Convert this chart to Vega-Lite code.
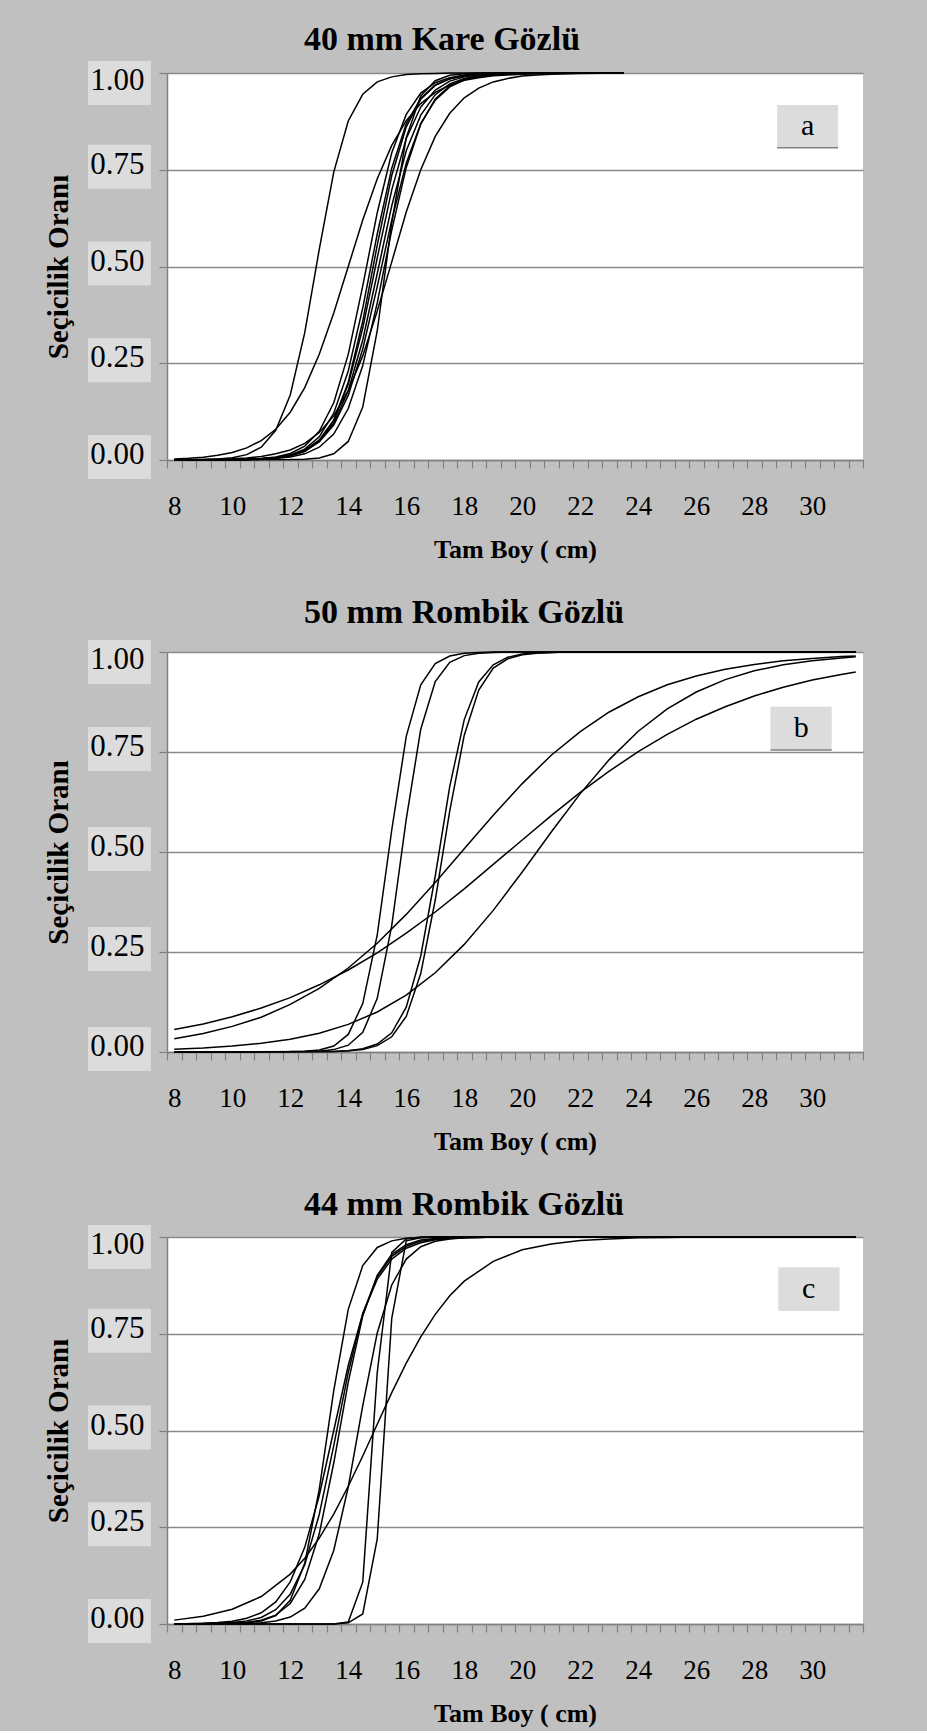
{
  "$schema": "https://vega.github.io/schema/vega-lite/v6.json",
  "background": "#c0c0c0",
  "padding": {"top": 22, "left": 44, "right": 66, "bottom": 5},
  "spacing": 33,
  "config": {
    "view": {"fill": "white", "stroke": null},
    "font": "Liberation Serif",
    "title": {"font": "Liberation Serif", "fontSize": 34, "fontWeight": "bold", "color": "black", "anchor": "start", "frame": "group", "dx": 137, "baseline": "alphabetic"},
    "axis": {"labelFont": "Liberation Serif", "titleFont": "Liberation Serif", "labelColor": "black", "titleColor": "black", "domainColor": "#808080", "tickColor": "#808080", "gridColor": "#8a8a8a", "gridWidth": 1.5, "domainWidth": 1.5, "tickWidth": 1.2, "tickSize": 8}
  },
  "datasets": {
    "ticks": [{"t": 0}, {"t": 0.25}, {"t": 0.5}, {"t": 0.75}, {"t": 1}],
    "a": [
      {"s":"A1","x":8,"y":0.0002},{"s":"A1","x":8.5,"y":0.0004},{"s":"A1","x":9,"y":0.001},{"s":"A1","x":9.5,"y":0.0024},{"s":"A1","x":10,"y":0.0057},{"s":"A1","x":10.5,"y":0.0138},{"s":"A1","x":11,"y":0.0329},{"s":"A1","x":11.5,"y":0.0766},{"s":"A1","x":12,"y":0.168},{"s":"A1","x":12.5,"y":0.329},{"s":"A1","x":13,"y":0.544},{"s":"A1","x":13.5,"y":0.744},{"s":"A1","x":14,"y":0.876},{"s":"A1","x":14.5,"y":0.945},{"s":"A1","x":15,"y":0.977},{"s":"A1","x":15.5,"y":0.99},{"s":"A1","x":16,"y":0.996},{"s":"A1","x":16.5,"y":0.998},{"s":"A1","x":17,"y":0.999},{"s":"A1","x":17.5,"y":1},{"s":"A1","x":23.5,"y":1},
      {"s":"A2","x":8,"y":0.0028},{"s":"A2","x":8.5,"y":0.0045},{"s":"A2","x":9,"y":0.0074},{"s":"A2","x":9.5,"y":0.012},{"s":"A2","x":10,"y":0.0195},{"s":"A2","x":10.5,"y":0.0314},{"s":"A2","x":11,"y":0.0502},{"s":"A2","x":11.5,"y":0.0794},{"s":"A2","x":12,"y":0.1235},{"s":"A2","x":12.5,"y":0.187},{"s":"A2","x":13,"y":0.273},{"s":"A2","x":13.5,"y":0.38},{"s":"A2","x":14,"y":0.5},{"s":"A2","x":14.5,"y":0.62},{"s":"A2","x":15,"y":0.727},{"s":"A2","x":15.5,"y":0.813},{"s":"A2","x":16,"y":0.877},{"s":"A2","x":16.5,"y":0.921},{"s":"A2","x":17,"y":0.95},{"s":"A2","x":17.5,"y":0.969},{"s":"A2","x":18,"y":0.981},{"s":"A2","x":18.5,"y":0.988},{"s":"A2","x":19,"y":0.993},{"s":"A2","x":19.5,"y":0.995},{"s":"A2","x":20,"y":0.997},{"s":"A2","x":21,"y":0.999},{"s":"A2","x":22,"y":1},{"s":"A2","x":23.5,"y":1},
      {"s":"sR","x":8,"y":0},{"s":"sR","x":12,"y":0.001},{"s":"sR","x":12.5,"y":0.002},{"s":"sR","x":13,"y":0.005},{"s":"sR","x":13.5,"y":0.016},{"s":"sR","x":14,"y":0.048},{"s":"sR","x":14.5,"y":0.137},{"s":"sR","x":15,"y":0.334},{"s":"sR","x":15.5,"y":0.613},{"s":"sR","x":16,"y":0.833},{"s":"sR","x":16.5,"y":0.941},{"s":"sR","x":17,"y":0.98},{"s":"sR","x":17.5,"y":0.994},{"s":"sR","x":18,"y":0.998},{"s":"sR","x":18.5,"y":1},{"s":"sR","x":23.5,"y":1},
      {"s":"wR","x":8,"y":0.0004},{"s":"wR","x":9,"y":0.001},{"s":"wR","x":10,"y":0.003},{"s":"wR","x":10.5,"y":0.005},{"s":"wR","x":11,"y":0.009},{"s":"wR","x":11.5,"y":0.016},{"s":"wR","x":12,"y":0.026},{"s":"wR","x":12.5,"y":0.043},{"s":"wR","x":13,"y":0.071},{"s":"wR","x":13.5,"y":0.114},{"s":"wR","x":14,"y":0.179},{"s":"wR","x":14.5,"y":0.269},{"s":"wR","x":15,"y":0.385},{"s":"wR","x":15.5,"y":0.512},{"s":"wR","x":16,"y":0.641},{"s":"wR","x":16.5,"y":0.75},{"s":"wR","x":17,"y":0.836},{"s":"wR","x":17.5,"y":0.896},{"s":"wR","x":18,"y":0.936},{"s":"wR","x":18.5,"y":0.961},{"s":"wR","x":19,"y":0.977},{"s":"wR","x":19.5,"y":0.986},{"s":"wR","x":20,"y":0.992},{"s":"wR","x":20.5,"y":0.995},{"s":"wR","x":21,"y":0.997},{"s":"wR","x":22,"y":0.999},{"s":"wR","x":23.5,"y":1},
      {"s":"c1","x":8,"y":0},{"s":"c1","x":10,"y":0.001},{"s":"c1","x":10.5,"y":0.002},{"s":"c1","x":11,"y":0.004},{"s":"c1","x":11.5,"y":0.008},{"s":"c1","x":12,"y":0.017},{"s":"c1","x":12.5,"y":0.036},{"s":"c1","x":13,"y":0.074},{"s":"c1","x":13.5,"y":0.148},{"s":"c1","x":14,"y":0.273},{"s":"c1","x":14.5,"y":0.45},{"s":"c1","x":15,"y":0.639},{"s":"c1","x":15.5,"y":0.794},{"s":"c1","x":16,"y":0.893},{"s":"c1","x":16.5,"y":0.948},{"s":"c1","x":17,"y":0.975},{"s":"c1","x":17.5,"y":0.988},{"s":"c1","x":18,"y":0.995},{"s":"c1","x":18.5,"y":0.998},{"s":"c1","x":19,"y":0.999},{"s":"c1","x":19.5,"y":1},{"s":"c1","x":23.5,"y":1},
      {"s":"c2","x":8,"y":0},{"s":"c2","x":10.5,"y":0.001},{"s":"c2","x":11,"y":0.003},{"s":"c2","x":11.5,"y":0.006},{"s":"c2","x":12,"y":0.013},{"s":"c2","x":12.5,"y":0.028},{"s":"c2","x":13,"y":0.06},{"s":"c2","x":13.5,"y":0.121},{"s":"c2","x":14,"y":0.23},{"s":"c2","x":14.5,"y":0.393},{"s":"c2","x":15,"y":0.584},{"s":"c2","x":15.5,"y":0.754},{"s":"c2","x":16,"y":0.869},{"s":"c2","x":16.5,"y":0.935},{"s":"c2","x":17,"y":0.969},{"s":"c2","x":17.5,"y":0.985},{"s":"c2","x":18,"y":0.993},{"s":"c2","x":18.5,"y":0.997},{"s":"c2","x":19,"y":0.999},{"s":"c2","x":19.5,"y":1},{"s":"c2","x":23.5,"y":1},
      {"s":"c3","x":8,"y":0},{"s":"c3","x":10.5,"y":0.001},{"s":"c3","x":11,"y":0.002},{"s":"c3","x":11.5,"y":0.005},{"s":"c3","x":12,"y":0.01},{"s":"c3","x":12.5,"y":0.022},{"s":"c3","x":13,"y":0.048},{"s":"c3","x":13.5,"y":0.102},{"s":"c3","x":14,"y":0.201},{"s":"c3","x":14.5,"y":0.359},{"s":"c3","x":15,"y":0.555},{"s":"c3","x":15.5,"y":0.735},{"s":"c3","x":16,"y":0.861},{"s":"c3","x":16.5,"y":0.932},{"s":"c3","x":17,"y":0.968},{"s":"c3","x":17.5,"y":0.985},{"s":"c3","x":18,"y":0.993},{"s":"c3","x":18.5,"y":0.997},{"s":"c3","x":19,"y":0.999},{"s":"c3","x":19.5,"y":1},{"s":"c3","x":23.5,"y":1},
      {"s":"c4","x":8,"y":0},{"s":"c4","x":10.5,"y":0.001},{"s":"c4","x":11,"y":0.003},{"s":"c4","x":11.5,"y":0.006},{"s":"c4","x":12,"y":0.012},{"s":"c4","x":12.5,"y":0.025},{"s":"c4","x":13,"y":0.052},{"s":"c4","x":13.5,"y":0.103},{"s":"c4","x":14,"y":0.196},{"s":"c4","x":14.5,"y":0.341},{"s":"c4","x":15,"y":0.522},{"s":"c4","x":15.5,"y":0.698},{"s":"c4","x":16,"y":0.831},{"s":"c4","x":16.5,"y":0.912},{"s":"c4","x":17,"y":0.956},{"s":"c4","x":17.5,"y":0.979},{"s":"c4","x":18,"y":0.99},{"s":"c4","x":18.5,"y":0.995},{"s":"c4","x":19,"y":0.998},{"s":"c4","x":19.5,"y":0.999},{"s":"c4","x":20,"y":1},{"s":"c4","x":23.5,"y":1},
      {"s":"c5","x":8,"y":0},{"s":"c5","x":10.5,"y":0.001},{"s":"c5","x":11,"y":0.003},{"s":"c5","x":11.5,"y":0.006},{"s":"c5","x":12,"y":0.012},{"s":"c5","x":12.5,"y":0.024},{"s":"c5","x":13,"y":0.049},{"s":"c5","x":13.5,"y":0.095},{"s":"c5","x":14,"y":0.179},{"s":"c5","x":14.5,"y":0.31},{"s":"c5","x":15,"y":0.482},{"s":"c5","x":15.5,"y":0.657},{"s":"c5","x":16,"y":0.799},{"s":"c5","x":16.5,"y":0.891},{"s":"c5","x":17,"y":0.944},{"s":"c5","x":17.5,"y":0.972},{"s":"c5","x":18,"y":0.986},{"s":"c5","x":18.5,"y":0.993},{"s":"c5","x":19,"y":0.997},{"s":"c5","x":19.5,"y":0.998},{"s":"c5","x":20,"y":0.999},{"s":"c5","x":20.5,"y":1},{"s":"c5","x":23.5,"y":1},
      {"s":"c6","x":8,"y":0},{"s":"c6","x":10.5,"y":0.001},{"s":"c6","x":11,"y":0.003},{"s":"c6","x":11.5,"y":0.006},{"s":"c6","x":12,"y":0.012},{"s":"c6","x":12.5,"y":0.024},{"s":"c6","x":13,"y":0.047},{"s":"c6","x":13.5,"y":0.09},{"s":"c6","x":14,"y":0.167},{"s":"c6","x":14.5,"y":0.287},{"s":"c6","x":15,"y":0.448},{"s":"c6","x":15.5,"y":0.62},{"s":"c6","x":16,"y":0.767},{"s":"c6","x":16.5,"y":0.869},{"s":"c6","x":17,"y":0.93},{"s":"c6","x":17.5,"y":0.964},{"s":"c6","x":18,"y":0.982},{"s":"c6","x":18.5,"y":0.991},{"s":"c6","x":19,"y":0.995},{"s":"c6","x":19.5,"y":0.998},{"s":"c6","x":20,"y":0.999},{"s":"c6","x":20.5,"y":1},{"s":"c6","x":23.5,"y":1},
      {"s":"c7","x":8,"y":0},{"s":"c7","x":10.5,"y":0.001},{"s":"c7","x":11,"y":0.002},{"s":"c7","x":11.5,"y":0.004},{"s":"c7","x":12,"y":0.008},{"s":"c7","x":12.5,"y":0.016},{"s":"c7","x":13,"y":0.033},{"s":"c7","x":13.5,"y":0.067},{"s":"c7","x":14,"y":0.133},{"s":"c7","x":14.5,"y":0.244},{"s":"c7","x":15,"y":0.406},{"s":"c7","x":15.5,"y":0.594},{"s":"c7","x":16,"y":0.756},{"s":"c7","x":16.5,"y":0.868},{"s":"c7","x":17,"y":0.933},{"s":"c7","x":17.5,"y":0.967},{"s":"c7","x":18,"y":0.984},{"s":"c7","x":18.5,"y":0.992},{"s":"c7","x":19,"y":0.996},{"s":"c7","x":19.5,"y":0.998},{"s":"c7","x":20,"y":0.999},{"s":"c7","x":20.5,"y":1},{"s":"c7","x":23.5,"y":1}
    ],
    "b": [
      {"s":"B1","x":8,"y":0},{"s":"B1","x":12,"y":0.001},{"s":"B1","x":12.5,"y":0.002},{"s":"B1","x":13,"y":0.005},{"s":"B1","x":13.5,"y":0.015},{"s":"B1","x":14,"y":0.044},{"s":"B1","x":14.5,"y":0.121},{"s":"B1","x":15,"y":0.293},{"s":"B1","x":15.5,"y":0.555},{"s":"B1","x":16,"y":0.789},{"s":"B1","x":16.5,"y":0.918},{"s":"B1","x":17,"y":0.971},{"s":"B1","x":17.5,"y":0.99},{"s":"B1","x":18,"y":0.997},{"s":"B1","x":18.5,"y":0.999},{"s":"B1","x":19,"y":1},{"s":"B1","x":31.5,"y":1},
      {"s":"B2","x":8,"y":0},{"s":"B2","x":12.5,"y":0.001},{"s":"B2","x":13,"y":0.002},{"s":"B2","x":13.5,"y":0.006},{"s":"B2","x":14,"y":0.017},{"s":"B2","x":14.5,"y":0.049},{"s":"B2","x":15,"y":0.134},{"s":"B2","x":15.5,"y":0.316},{"s":"B2","x":16,"y":0.582},{"s":"B2","x":16.5,"y":0.807},{"s":"B2","x":17,"y":0.926},{"s":"B2","x":17.5,"y":0.974},{"s":"B2","x":18,"y":0.991},{"s":"B2","x":18.5,"y":0.997},{"s":"B2","x":19,"y":0.999},{"s":"B2","x":19.5,"y":1},{"s":"B2","x":31.5,"y":1},
      {"s":"B3","x":8,"y":0},{"s":"B3","x":13,"y":0.001},{"s":"B3","x":13.5,"y":0.001},{"s":"B3","x":14,"y":0.003},{"s":"B3","x":14.5,"y":0.008},{"s":"B3","x":15,"y":0.02},{"s":"B3","x":15.5,"y":0.048},{"s":"B3","x":16,"y":0.112},{"s":"B3","x":16.5,"y":0.24},{"s":"B3","x":17,"y":0.44},{"s":"B3","x":17.5,"y":0.664},{"s":"B3","x":18,"y":0.831},{"s":"B3","x":18.5,"y":0.925},{"s":"B3","x":19,"y":0.968},{"s":"B3","x":19.5,"y":0.987},{"s":"B3","x":20,"y":0.995},{"s":"B3","x":20.5,"y":0.998},{"s":"B3","x":21,"y":0.999},{"s":"B3","x":21.5,"y":1},{"s":"B3","x":31.5,"y":1},
      {"s":"B4","x":8,"y":0},{"s":"B4","x":13.5,"y":0.001},{"s":"B4","x":14,"y":0.003},{"s":"B4","x":14.5,"y":0.006},{"s":"B4","x":15,"y":0.016},{"s":"B4","x":15.5,"y":0.038},{"s":"B4","x":16,"y":0.089},{"s":"B4","x":16.5,"y":0.196},{"s":"B4","x":17,"y":0.38},{"s":"B4","x":17.5,"y":0.603},{"s":"B4","x":18,"y":0.792},{"s":"B4","x":18.5,"y":0.905},{"s":"B4","x":19,"y":0.96},{"s":"B4","x":19.5,"y":0.983},{"s":"B4","x":20,"y":0.993},{"s":"B4","x":20.5,"y":0.997},{"s":"B4","x":21,"y":0.999},{"s":"B4","x":21.5,"y":1},{"s":"B4","x":31.5,"y":1},
      {"s":"W1","x":8,"y":0.033},{"s":"W1","x":9,"y":0.046},{"s":"W1","x":10,"y":0.064},{"s":"W1","x":11,"y":0.087},{"s":"W1","x":12,"y":0.119},{"s":"W1","x":13,"y":0.159},{"s":"W1","x":14,"y":0.21},{"s":"W1","x":15,"y":0.272},{"s":"W1","x":16,"y":0.344},{"s":"W1","x":17,"y":0.424},{"s":"W1","x":18,"y":0.508},{"s":"W1","x":19,"y":0.592},{"s":"W1","x":20,"y":0.671},{"s":"W1","x":21,"y":0.742},{"s":"W1","x":22,"y":0.801},{"s":"W1","x":23,"y":0.85},{"s":"W1","x":24,"y":0.888},{"s":"W1","x":25,"y":0.918},{"s":"W1","x":26,"y":0.94},{"s":"W1","x":27,"y":0.957},{"s":"W1","x":28,"y":0.969},{"s":"W1","x":29,"y":0.978},{"s":"W1","x":30,"y":0.984},{"s":"W1","x":31,"y":0.989},{"s":"W1","x":31.5,"y":0.99},
      {"s":"W2","x":8,"y":0.056},{"s":"W2","x":9,"y":0.07},{"s":"W2","x":10,"y":0.088},{"s":"W2","x":11,"y":0.11},{"s":"W2","x":12,"y":0.136},{"s":"W2","x":13,"y":0.168},{"s":"W2","x":14,"y":0.205},{"s":"W2","x":15,"y":0.248},{"s":"W2","x":16,"y":0.297},{"s":"W2","x":17,"y":0.35},{"s":"W2","x":18,"y":0.408},{"s":"W2","x":19,"y":0.469},{"s":"W2","x":20,"y":0.53},{"s":"W2","x":21,"y":0.591},{"s":"W2","x":22,"y":0.649},{"s":"W2","x":23,"y":0.702},{"s":"W2","x":24,"y":0.751},{"s":"W2","x":25,"y":0.794},{"s":"W2","x":26,"y":0.832},{"s":"W2","x":27,"y":0.863},{"s":"W2","x":28,"y":0.89},{"s":"W2","x":29,"y":0.912},{"s":"W2","x":30,"y":0.93},{"s":"W2","x":31,"y":0.944},{"s":"W2","x":31.5,"y":0.95},
      {"s":"W3","x":8,"y":0.007},{"s":"W3","x":9,"y":0.01},{"s":"W3","x":10,"y":0.015},{"s":"W3","x":11,"y":0.022},{"s":"W3","x":12,"y":0.032},{"s":"W3","x":13,"y":0.047},{"s":"W3","x":14,"y":0.069},{"s":"W3","x":15,"y":0.1},{"s":"W3","x":16,"y":0.142},{"s":"W3","x":17,"y":0.198},{"s":"W3","x":18,"y":0.269},{"s":"W3","x":19,"y":0.354},{"s":"W3","x":20,"y":0.45},{"s":"W3","x":21,"y":0.55},{"s":"W3","x":22,"y":0.646},{"s":"W3","x":23,"y":0.731},{"s":"W3","x":24,"y":0.802},{"s":"W3","x":25,"y":0.858},{"s":"W3","x":26,"y":0.9},{"s":"W3","x":27,"y":0.931},{"s":"W3","x":28,"y":0.953},{"s":"W3","x":29,"y":0.968},{"s":"W3","x":30,"y":0.978},{"s":"W3","x":31,"y":0.985},{"s":"W3","x":31.5,"y":0.988}
    ],
    "c": [
      {"s":"C1","x":8,"y":0},{"s":"C1","x":10,"y":0.001},{"s":"C1","x":10.5,"y":0.003},{"s":"C1","x":11,"y":0.008},{"s":"C1","x":11.5,"y":0.022},{"s":"C1","x":12,"y":0.061},{"s":"C1","x":12.5,"y":0.157},{"s":"C1","x":13,"y":0.348},{"s":"C1","x":13.5,"y":0.603},{"s":"C1","x":14,"y":0.813},{"s":"C1","x":14.5,"y":0.926},{"s":"C1","x":15,"y":0.973},{"s":"C1","x":15.5,"y":0.99},{"s":"C1","x":16,"y":0.997},{"s":"C1","x":16.5,"y":0.999},{"s":"C1","x":17,"y":1},{"s":"C1","x":31.5,"y":1},
      {"s":"C2","x":8,"y":0},{"s":"C2","x":9,"y":0.002},{"s":"C2","x":9.5,"y":0.004},{"s":"C2","x":10,"y":0.007},{"s":"C2","x":10.5,"y":0.015},{"s":"C2","x":11,"y":0.029},{"s":"C2","x":11.5,"y":0.057},{"s":"C2","x":12,"y":0.109},{"s":"C2","x":12.5,"y":0.198},{"s":"C2","x":13,"y":0.332},{"s":"C2","x":13.5,"y":0.5},{"s":"C2","x":14,"y":0.668},{"s":"C2","x":14.5,"y":0.802},{"s":"C2","x":15,"y":0.891},{"s":"C2","x":15.5,"y":0.943},{"s":"C2","x":16,"y":0.971},{"s":"C2","x":16.5,"y":0.985},{"s":"C2","x":17,"y":0.993},{"s":"C2","x":17.5,"y":0.996},{"s":"C2","x":18,"y":0.998},{"s":"C2","x":18.5,"y":0.999},{"s":"C2","x":19,"y":1},{"s":"C2","x":31.5,"y":1},
      {"s":"C3","x":8,"y":0},{"s":"C3","x":9,"y":0.001},{"s":"C3","x":9.5,"y":0.002},{"s":"C3","x":10,"y":0.004},{"s":"C3","x":10.5,"y":0.008},{"s":"C3","x":11,"y":0.017},{"s":"C3","x":11.5,"y":0.037},{"s":"C3","x":12,"y":0.077},{"s":"C3","x":12.5,"y":0.153},{"s":"C3","x":13,"y":0.283},{"s":"C3","x":13.5,"y":0.461},{"s":"C3","x":14,"y":0.65},{"s":"C3","x":14.5,"y":0.802},{"s":"C3","x":15,"y":0.898},{"s":"C3","x":15.5,"y":0.95},{"s":"C3","x":16,"y":0.976},{"s":"C3","x":16.5,"y":0.989},{"s":"C3","x":17,"y":0.995},{"s":"C3","x":17.5,"y":0.998},{"s":"C3","x":18,"y":0.999},{"s":"C3","x":18.5,"y":1},{"s":"C3","x":31.5,"y":1},
      {"s":"C4","x":8,"y":0},{"s":"C4","x":9.5,"y":0.001},{"s":"C4","x":10,"y":0.002},{"s":"C4","x":10.5,"y":0.004},{"s":"C4","x":11,"y":0.01},{"s":"C4","x":11.5,"y":0.023},{"s":"C4","x":12,"y":0.053},{"s":"C4","x":12.5,"y":0.115},{"s":"C4","x":13,"y":0.233},{"s":"C4","x":13.5,"y":0.416},{"s":"C4","x":14,"y":0.625},{"s":"C4","x":14.5,"y":0.796},{"s":"C4","x":15,"y":0.901},{"s":"C4","x":15.5,"y":0.955},{"s":"C4","x":16,"y":0.98},{"s":"C4","x":16.5,"y":0.992},{"s":"C4","x":17,"y":0.996},{"s":"C4","x":17.5,"y":0.998},{"s":"C4","x":18,"y":0.999},{"s":"C4","x":18.5,"y":1},{"s":"C4","x":31.5,"y":1},
      {"s":"C5","x":8,"y":0},{"s":"C5","x":10,"y":0.001},{"s":"C5","x":10.5,"y":0.001},{"s":"C5","x":11,"y":0.003},{"s":"C5","x":11.5,"y":0.008},{"s":"C5","x":12,"y":0.018},{"s":"C5","x":12.5,"y":0.041},{"s":"C5","x":13,"y":0.091},{"s":"C5","x":13.5,"y":0.19},{"s":"C5","x":14,"y":0.354},{"s":"C5","x":14.5,"y":0.564},{"s":"C5","x":15,"y":0.752},{"s":"C5","x":15.5,"y":0.876},{"s":"C5","x":16,"y":0.943},{"s":"C5","x":16.5,"y":0.975},{"s":"C5","x":17,"y":0.989},{"s":"C5","x":17.5,"y":0.995},{"s":"C5","x":18,"y":0.998},{"s":"C5","x":18.5,"y":0.999},{"s":"C5","x":19,"y":1},{"s":"C5","x":31.5,"y":1},
      {"s":"Cw","x":8,"y":0.01},{"s":"Cw","x":9,"y":0.02},{"s":"Cw","x":10,"y":0.038},{"s":"Cw","x":11,"y":0.071},{"s":"Cw","x":12,"y":0.129},{"s":"Cw","x":12.5,"y":0.17},{"s":"Cw","x":13,"y":0.222},{"s":"Cw","x":13.5,"y":0.284},{"s":"Cw","x":14,"y":0.356},{"s":"Cw","x":14.5,"y":0.434},{"s":"Cw","x":15,"y":0.516},{"s":"Cw","x":15.5,"y":0.598},{"s":"Cw","x":16,"y":0.674},{"s":"Cw","x":16.5,"y":0.742},{"s":"Cw","x":17,"y":0.8},{"s":"Cw","x":17.5,"y":0.848},{"s":"Cw","x":18,"y":0.886},{"s":"Cw","x":19,"y":0.937},{"s":"Cw","x":20,"y":0.967},{"s":"Cw","x":21,"y":0.982},{"s":"Cw","x":22,"y":0.991},{"s":"Cw","x":23,"y":0.995},{"s":"Cw","x":24,"y":0.998},{"s":"Cw","x":25,"y":0.999},{"s":"Cw","x":26,"y":1},{"s":"Cw","x":31.5,"y":1},
      {"s":"VA","x":8,"y":0},{"s":"VA","x":13.5,"y":0},{"s":"VA","x":14,"y":0.005},{"s":"VA","x":14.5,"y":0.108},{"s":"VA","x":15,"y":0.65},{"s":"VA","x":15.5,"y":0.96},{"s":"VA","x":16,"y":0.995},{"s":"VA","x":16.5,"y":1},{"s":"VA","x":31.5,"y":1},
      {"s":"VB","x":8,"y":0},{"s":"VB","x":13.5,"y":0},{"s":"VB","x":14,"y":0.003},{"s":"VB","x":14.5,"y":0.026},{"s":"VB","x":15,"y":0.22},{"s":"VB","x":15.5,"y":0.79},{"s":"VB","x":16,"y":0.99},{"s":"VB","x":16.5,"y":0.998},{"s":"VB","x":17,"y":1},{"s":"VB","x":31.5,"y":1}
    ]
  },
  "vconcat": [
    {
      "width": 696, "height": 387,
      "title": {"text": "40 mm Kare Gözlü", "offset": 4},
      "layer": [
        {"data": {"name": "a"}, "mark": {"type": "line", "color": "black", "strokeWidth": 1.5},
         "encoding": {
           "x": {"field": "x", "type": "quantitative", "scale": {"domain": [7.75, 31.75], "nice": false, "zero": false},
                 "axis": {"title": "Tam Boy ( cm)", "titleFontSize": 26, "titleFontWeight": "bold", "titlePadding": 17, "labelFontSize": 27, "labelPadding": 25, "labelOverlap": false, "labelFlush": false, "grid": false, "tickCount": 1000, "tickMinStep": 0.25,
                          "values": [7.75,8.25,8.75,9.25,9.75,10.25,10.75,11.25,11.75,12.25,12.75,13.25,13.75,14.25,14.75,15.25,15.75,16.25,16.75,17.25,17.75,18.25,18.75,19.25,19.75,20.25,20.75,21.25,21.75,22.25,22.75,23.25,23.75,24.25,24.75,25.25,25.75,26.25,26.75,27.25,27.75,28.25,28.75,29.25,29.75,30.25,30.75,31.25,31.75,8,10,12,14,16,18,20,22,24,26,28,30],
                          "labelExpr": "datum.value % 2 == 0 ? '' + datum.value : ''",
                          "tickOpacity": {"condition": {"test": "datum.value % 2 == 0", "value": 0}, "value": 1}}},
           "y": {"field": "y", "type": "quantitative", "scale": {"domain": [0, 1], "nice": false},
                 "axis": {"title": "Seçicilik Oranı", "titleFontSize": 29, "titleFontWeight": "bold", "titlePadding": 85, "labels": false, "grid": true, "values": [0, 0.25, 0.5, 0.75, 1]}},
           "detail": {"field": "s"}}},
        {"data": {"name": "ticks"}, "mark": {"type": "point", "shape": "M-1,-0.7H1V0.7H-1Z", "filled": true, "color": "#dcdcdc", "opacity": 1, "size": 3969, "strokeWidth": 0, "yOffset": {"expr": "datum.t == 1 ? 10 : -3"}},
         "encoding": {"x": {"datum": 6.11, "type": "quantitative"}, "y": {"field": "t", "type": "quantitative"}}},
        {"data": {"name": "ticks"}, "mark": {"type": "text", "align": "right", "baseline": "middle", "fontSize": 31, "font": "Liberation Serif", "color": "black", "yOffset": {"expr": "datum.t == 1 ? 8 : -5"}},
         "encoding": {"x": {"datum": 6.97, "type": "quantitative"}, "y": {"field": "t", "type": "quantitative"}, "text": {"field": "t", "type": "quantitative", "format": ".2f"}}},
        {"data": {"values": [{}]}, "mark": {"type": "rect", "color": "#dcdcdc"},
         "encoding": {"x": {"datum": 28.79, "type": "quantitative"}, "x2": {"datum": 30.89}, "y": {"datum": 0.917, "type": "quantitative"}, "y2": {"datum": 0.807}}},
        {"data": {"values": [{}]}, "mark": {"type": "rule", "color": "#808080", "strokeWidth": 1.5},
         "encoding": {"x": {"datum": 28.79, "type": "quantitative"}, "x2": {"datum": 30.89}, "y": {"datum": 0.807, "type": "quantitative"}}},
        {"data": {"values": [{"label": "a"}]}, "mark": {"type": "text", "fontSize": 30, "font": "Liberation Serif", "color": "black", "baseline": "middle"},
         "encoding": {"x": {"datum": 29.84, "type": "quantitative"}, "y": {"datum": 0.862, "type": "quantitative"}, "text": {"field": "label"}}}
      ]
    },
    {
      "width": 696, "height": 400,
      "title": {"text": "50 mm Rombik Gözlü", "offset": 10},
      "layer": [
        {"data": {"name": "b"}, "mark": {"type": "line", "color": "black", "strokeWidth": 1.5},
         "encoding": {
           "x": {"field": "x", "type": "quantitative", "scale": {"domain": [7.75, 31.75], "nice": false, "zero": false},
                 "axis": {"title": "Tam Boy ( cm)", "titleFontSize": 26, "titleFontWeight": "bold", "titlePadding": 17, "labelFontSize": 27, "labelPadding": 25, "labelOverlap": false, "labelFlush": false, "grid": false, "tickCount": 1000, "tickMinStep": 0.25,
                          "values": [7.75,8.25,8.75,9.25,9.75,10.25,10.75,11.25,11.75,12.25,12.75,13.25,13.75,14.25,14.75,15.25,15.75,16.25,16.75,17.25,17.75,18.25,18.75,19.25,19.75,20.25,20.75,21.25,21.75,22.25,22.75,23.25,23.75,24.25,24.75,25.25,25.75,26.25,26.75,27.25,27.75,28.25,28.75,29.25,29.75,30.25,30.75,31.25,31.75,8,10,12,14,16,18,20,22,24,26,28,30],
                          "labelExpr": "datum.value % 2 == 0 ? '' + datum.value : ''",
                          "tickOpacity": {"condition": {"test": "datum.value % 2 == 0", "value": 0}, "value": 1}}},
           "y": {"field": "y", "type": "quantitative", "scale": {"domain": [0, 1], "nice": false},
                 "axis": {"title": "Seçicilik Oranı", "titleFontSize": 29, "titleFontWeight": "bold", "titlePadding": 85, "labels": false, "grid": true, "values": [0, 0.25, 0.5, 0.75, 1]}},
           "detail": {"field": "s"}}},
        {"data": {"name": "ticks"}, "mark": {"type": "point", "shape": "M-1,-0.7H1V0.7H-1Z", "filled": true, "color": "#dcdcdc", "opacity": 1, "size": 3969, "strokeWidth": 0, "yOffset": {"expr": "datum.t == 1 ? 10 : -3"}},
         "encoding": {"x": {"datum": 6.11, "type": "quantitative"}, "y": {"field": "t", "type": "quantitative"}}},
        {"data": {"name": "ticks"}, "mark": {"type": "text", "align": "right", "baseline": "middle", "fontSize": 31, "font": "Liberation Serif", "color": "black", "yOffset": {"expr": "datum.t == 1 ? 8 : -5"}},
         "encoding": {"x": {"datum": 6.97, "type": "quantitative"}, "y": {"field": "t", "type": "quantitative"}, "text": {"field": "t", "type": "quantitative", "format": ".2f"}}},
        {"data": {"values": [{}]}, "mark": {"type": "rect", "color": "#dcdcdc"},
         "encoding": {"x": {"datum": 28.56, "type": "quantitative"}, "x2": {"datum": 30.67}, "y": {"datum": 0.863, "type": "quantitative"}, "y2": {"datum": 0.755}}},
        {"data": {"values": [{}]}, "mark": {"type": "rule", "color": "#808080", "strokeWidth": 1.5},
         "encoding": {"x": {"datum": 28.56, "type": "quantitative"}, "x2": {"datum": 30.67}, "y": {"datum": 0.755, "type": "quantitative"}}},
        {"data": {"values": [{"label": "b"}]}, "mark": {"type": "text", "fontSize": 30, "font": "Liberation Serif", "color": "black", "baseline": "middle"},
         "encoding": {"x": {"datum": 29.62, "type": "quantitative"}, "y": {"datum": 0.809, "type": "quantitative"}, "text": {"field": "label"}}}
      ]
    },
    {
      "width": 696, "height": 387,
      "title": {"text": "44 mm Rombik Gözlü", "offset": 3},
      "layer": [
        {"data": {"name": "c"}, "mark": {"type": "line", "color": "black", "strokeWidth": 1.5},
         "encoding": {
           "x": {"field": "x", "type": "quantitative", "scale": {"domain": [7.75, 31.75], "nice": false, "zero": false},
                 "axis": {"title": "Tam Boy ( cm)", "titleFontSize": 26, "titleFontWeight": "bold", "titlePadding": 17, "labelFontSize": 27, "labelPadding": 25, "labelOverlap": false, "labelFlush": false, "grid": false, "tickCount": 1000, "tickMinStep": 0.25,
                          "values": [7.75,8.25,8.75,9.25,9.75,10.25,10.75,11.25,11.75,12.25,12.75,13.25,13.75,14.25,14.75,15.25,15.75,16.25,16.75,17.25,17.75,18.25,18.75,19.25,19.75,20.25,20.75,21.25,21.75,22.25,22.75,23.25,23.75,24.25,24.75,25.25,25.75,26.25,26.75,27.25,27.75,28.25,28.75,29.25,29.75,30.25,30.75,31.25,31.75,8,10,12,14,16,18,20,22,24,26,28,30],
                          "labelExpr": "datum.value % 2 == 0 ? '' + datum.value : ''",
                          "tickOpacity": {"condition": {"test": "datum.value % 2 == 0", "value": 0}, "value": 1}}},
           "y": {"field": "y", "type": "quantitative", "scale": {"domain": [0, 1], "nice": false},
                 "axis": {"title": "Seçicilik Oranı", "titleFontSize": 29, "titleFontWeight": "bold", "titlePadding": 85, "labels": false, "grid": true, "values": [0, 0.25, 0.5, 0.75, 1]}},
           "detail": {"field": "s"}}},
        {"data": {"name": "ticks"}, "mark": {"type": "point", "shape": "M-1,-0.7H1V0.7H-1Z", "filled": true, "color": "#dcdcdc", "opacity": 1, "size": 3969, "strokeWidth": 0, "yOffset": {"expr": "datum.t == 1 ? 10 : -3"}},
         "encoding": {"x": {"datum": 6.11, "type": "quantitative"}, "y": {"field": "t", "type": "quantitative"}}},
        {"data": {"name": "ticks"}, "mark": {"type": "text", "align": "right", "baseline": "middle", "fontSize": 31, "font": "Liberation Serif", "color": "black", "yOffset": {"expr": "datum.t == 1 ? 8 : -5"}},
         "encoding": {"x": {"datum": 6.97, "type": "quantitative"}, "y": {"field": "t", "type": "quantitative"}, "text": {"field": "t", "type": "quantitative", "format": ".2f"}}},
        {"data": {"values": [{}]}, "mark": {"type": "rect", "color": "#dcdcdc"},
         "encoding": {"x": {"datum": 28.83, "type": "quantitative"}, "x2": {"datum": 30.94}, "y": {"datum": 0.922, "type": "quantitative"}, "y2": {"datum": 0.809}}},
        {"data": {"values": [{"label": "c"}]}, "mark": {"type": "text", "fontSize": 30, "font": "Liberation Serif", "color": "black", "baseline": "middle"},
         "encoding": {"x": {"datum": 29.88, "type": "quantitative"}, "y": {"datum": 0.866, "type": "quantitative"}, "text": {"field": "label"}}}
      ]
    }
  ]
}
